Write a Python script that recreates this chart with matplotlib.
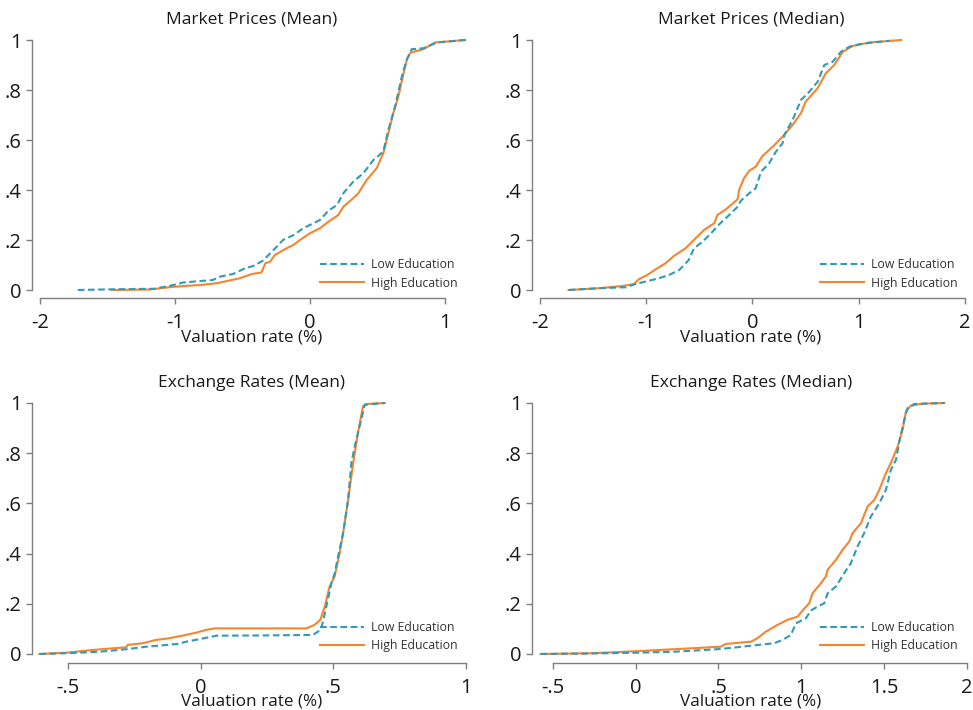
import matplotlib
matplotlib.use("Agg")
import matplotlib.pyplot as plt

# ---------------- data ----------------
# Market Prices (Mean)
mpm_low_x = [-1.72, -1.45, -1.15, -1.01, -0.94, -0.72, -0.67, -0.57, -0.48, -0.42, -0.35, -0.27,
             -0.20, -0.12, -0.05, 0.025, 0.074, 0.136, 0.20, 0.247, 0.32, 0.395, 0.47, 0.543,
             0.58, 0.63, 0.68, 0.716, 0.753, 0.84, 0.94, 1.15]
mpm_low_y = [0.0, 0.003, 0.005, 0.02, 0.03, 0.04, 0.053, 0.064, 0.087, 0.096, 0.117, 0.16,
             0.20, 0.22, 0.247, 0.267, 0.28, 0.317, 0.34, 0.387, 0.433, 0.467, 0.52, 0.553,
             0.64, 0.733, 0.853, 0.92, 0.963, 0.967, 0.99, 1.0]
mpm_high_x = [-1.47, -1.185, -1.01, -0.815, -0.69, -0.52, -0.43, -0.36, -0.33, -0.296, -0.26,
              -0.173, -0.123, -0.074, 0.0, 0.074, 0.136, 0.21, 0.247, 0.32, 0.358, 0.42, 0.494,
              0.543, 0.568, 0.617, 0.654, 0.69, 0.72, 0.746, 0.84, 0.926, 1.15]
mpm_high_y = [0.0, 0.002, 0.013, 0.02, 0.027, 0.047, 0.064, 0.07, 0.107, 0.113, 0.14,
              0.167, 0.18, 0.20, 0.227, 0.247, 0.273, 0.30, 0.333, 0.367, 0.387, 0.44, 0.487,
              0.547, 0.60, 0.707, 0.773, 0.86, 0.927, 0.95, 0.963, 0.99, 1.0]

# Market Prices (Median)
mpd_low_x = [-1.73, -1.45, -1.19, -1.10, -0.975, -0.88, -0.786, -0.69, -0.60, -0.55, -0.47,
             -0.39, -0.31, -0.236, -0.14, -0.11, -0.03, 0.03, 0.08, 0.157, 0.22, 0.283, 0.30,
             0.377, 0.456, 0.535, 0.613, 0.676, 0.755, 0.833, 0.912, 1.006, 1.13, 1.29]
mpd_low_y = [0.0, 0.007, 0.011, 0.024, 0.037, 0.047, 0.06, 0.08, 0.12, 0.167, 0.193,
             0.227, 0.264, 0.293, 0.333, 0.357, 0.387, 0.407, 0.473, 0.507, 0.553, 0.587, 0.62,
             0.68, 0.76, 0.793, 0.833, 0.90, 0.913, 0.953, 0.973, 0.983, 0.99, 0.997]
mpd_high_x = [-1.73, -1.45, -1.226, -1.116, -1.07, -0.99, -0.91, -0.818, -0.74, -0.63, -0.535,
              -0.456, -0.36, -0.33, -0.25, -0.14, -0.126, -0.08, -0.03, 0.03, 0.094, 0.19,
              0.283, 0.377, 0.456, 0.50, 0.613, 0.69, 0.77, 0.85, 0.943, 1.10, 1.40]
mpd_high_y = [0.0, 0.007, 0.016, 0.024, 0.043, 0.06, 0.083, 0.107, 0.136, 0.167, 0.207,
              0.24, 0.267, 0.30, 0.323, 0.363, 0.40, 0.447, 0.477, 0.493, 0.536, 0.573,
              0.613, 0.66, 0.707, 0.753, 0.807, 0.867, 0.90, 0.953, 0.976, 0.99, 1.0]

# Exchange Rates (Mean)
erm_low_x = [-0.608, -0.508, -0.38, -0.28, -0.205, -0.086, -0.054, -0.004, 0.06, 0.248, 0.424,
             0.443, 0.456, 0.469, 0.494, 0.506, 0.519, 0.538, 0.557, 0.569, 0.582, 0.594,
             0.62, 0.695]
erm_low_y = [0.0, 0.003, 0.009, 0.019, 0.029, 0.04, 0.049, 0.059, 0.073, 0.074, 0.076,
             0.089, 0.102, 0.162, 0.282, 0.32, 0.388, 0.481, 0.614, 0.76, 0.827, 0.88,
             0.993, 1.0]
erm_high_x = [-0.608, -0.508, -0.407, -0.28, -0.275, -0.218, -0.168, -0.117, -0.073, -0.016,
              0.021, 0.053, 0.40, 0.43, 0.452, 0.469, 0.487, 0.506, 0.525, 0.538, 0.557,
              0.576, 0.594, 0.613, 0.626, 0.695]
erm_high_y = [0.0, 0.005, 0.016, 0.027, 0.036, 0.043, 0.056, 0.063, 0.072, 0.085,
              0.096, 0.102, 0.102, 0.116, 0.136, 0.189, 0.269, 0.309, 0.402, 0.481, 0.614,
              0.76, 0.88, 0.987, 0.996, 1.0]

# Exchange Rates (Median)
erd_low_x = [-0.575, -0.27, 0.0, 0.23, 0.494, 0.615, 0.696, 0.837, 0.887, 0.938, 0.968, 1.028,
             1.058, 1.099, 1.139, 1.16, 1.21, 1.26, 1.30, 1.34, 1.38, 1.421, 1.472, 1.512,
             1.542, 1.573, 1.593, 1.623, 1.643, 1.683, 1.865]
erd_low_y = [0.0, 0.002, 0.005, 0.009, 0.019, 0.027, 0.033, 0.043, 0.056, 0.076, 0.122, 0.142,
             0.173, 0.189, 0.202, 0.242, 0.269, 0.322, 0.362, 0.428, 0.481, 0.548, 0.601, 0.654,
             0.734, 0.774, 0.847, 0.934, 0.98, 0.996, 1.0]
erd_high_x = [-0.575, -0.27, 0.0, 0.23, 0.514, 0.544, 0.696, 0.736, 0.786, 0.857, 0.917, 0.978,
              1.008, 1.048, 1.069, 1.119, 1.149, 1.159, 1.21, 1.25, 1.29, 1.31, 1.361, 1.401,
              1.442, 1.472, 1.512, 1.542, 1.583, 1.613, 1.633, 1.663, 1.724, 1.865]
erd_high_y = [0.0, 0.003, 0.011, 0.019, 0.029, 0.04, 0.049, 0.063, 0.089, 0.116, 0.136, 0.149,
              0.173, 0.202, 0.242, 0.282, 0.309, 0.335, 0.375, 0.415, 0.448, 0.481, 0.521, 0.588,
              0.614, 0.654, 0.721, 0.761, 0.827, 0.894, 0.967, 0.989, 0.997, 1.0]

titles = ["Market Prices (Mean)", "Market Prices (Median)",
          "Exchange Rates (Mean)", "Exchange Rates (Median)"]
series_labels = ["Low Education", "High Education"]
y_ticks = [0, 0.2, 0.4, 0.6, 0.8, 1.0]
y_ticklabels = ["0", ".2", ".4", ".6", ".8", "1"]
x_ticks = [[-2, -1, 0, 1], [-2, -1, 0, 1, 2],
           [-0.5, 0, 0.5, 1], [-0.5, 0, 0.5, 1, 1.5, 2]]
x_ticklabels = [["-2", "-1", "0", "1"], ["-2", "-1", "0", "1", "2"],
                ["-.5", "0", ".5", "1"], ["-.5", "0", ".5", "1", "1.5", "2"]]
x_label = "Valuation rate (%)"

panels_data = [
    (mpm_low_x, mpm_low_y, mpm_high_x, mpm_high_y),
    (mpd_low_x, mpd_low_y, mpd_high_x, mpd_high_y),
    (erm_low_x, erm_low_y, erm_high_x, erm_high_y),
    (erd_low_x, erd_low_y, erd_high_x, erd_high_y),
]

# ---------------- layout / style ----------------
W, H = 973, 710
plt.rcParams["font.family"] = ["Open Sans", "DejaVu Sans"]
LOW_C = "#2f9bb7"
HIGH_C = "#f5852f"
SPINE_C = "#7f7f7f"
TEXT_C = "#1a1a1a"

# pixel boxes (left, right, top, bottom) and limits
boxes = [(32, 472, 35, 298), (532, 970, 35, 298),
         (32, 472, 398, 663), (532, 970, 398, 663)]
xlims = [(-2.059, 1.2), (-2.075, 2.047), (-0.636, 1.0245), (-0.627, 2.02)]
ylims = [(-0.032, 1.02), (-0.032, 1.02), (-0.0359, 1.0199), (-0.0359, 1.0199)]

fig = plt.figure(figsize=(W / 100, H / 100), dpi=100)

for i in range(4):
    l, r, t, b = boxes[i]
    ax = fig.add_axes([l / W, 1 - b / H, (r - l) / W, (b - t) / H])
    lx, ly, hx, hy = panels_data[i]
    ax.plot(lx, ly, color=LOW_C, lw=1.5, ls=(0, (3.2, 1.7)), label=series_labels[0], zorder=3)
    ax.plot(hx, hy, color=HIGH_C, lw=1.5, ls="-", label=series_labels[1], zorder=2)
    ax.set_xlim(*xlims[i])
    ax.set_ylim(*ylims[i])
    for s in ["top", "right"]:
        ax.spines[s].set_visible(False)
    ax.spines["left"].set_bounds(0, 1)
    ax.spines["bottom"].set_bounds(x_ticks[i][0], x_ticks[i][-1])
    for s in ["left", "bottom"]:
        ax.spines[s].set_color(SPINE_C)
        ax.spines[s].set_linewidth(1.0)
    ax.set_yticks(y_ticks)
    ax.set_yticklabels(y_ticklabels)
    ax.set_xticks(x_ticks[i])
    ax.set_xticklabels(x_ticklabels[i])
    ax.tick_params(axis="both", direction="out", length=4.5, width=1.0, color=SPINE_C,
                   labelsize=14.5, labelcolor=TEXT_C)
    ax.tick_params(axis="y", pad=3)
    ax.tick_params(axis="x", pad=6)
    ax.set_xlabel(x_label, fontsize=12.3, color=TEXT_C)
    ax.xaxis.set_label_coords(0.5, -39 / (b - t))
    ax.xaxis.label.set_va("center")
    ax.text(0.5, 1 + 15 / (b - t), titles[i], transform=ax.transAxes, ha="center",
            va="center", fontsize=12.5, color=TEXT_C)
    leg = ax.legend(loc="upper left", frameon=False, fontsize=8.8, handlelength=3.6,
                    handletextpad=0.6, labelspacing=0.45, borderpad=0, borderaxespad=0)
    # place legend so that first key sits at the reference position
    leg.set_bbox_to_anchor(((l + 288) / W, 1 - (t + (258 - 35)) / H), transform=fig.transFigure)
    for txt in leg.get_texts():
        txt.set_color("#333333")

fig.savefig("out.png", dpi=100)
